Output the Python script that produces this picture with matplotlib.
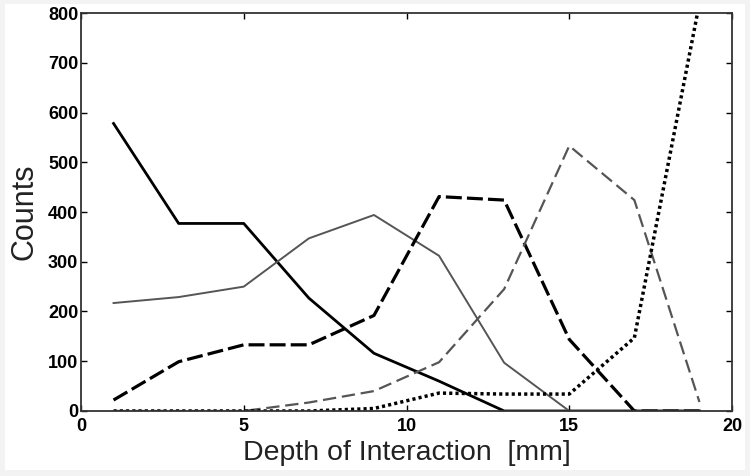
import matplotlib.pyplot as plt
from matplotlib.patches import Rectangle

depth = [1, 3, 5, 7, 9, 11, 13, 15, 17, 19]

black_solid = [578, 377, 377, 227, 116, 60, 0, 0, 0, 0]
gray_solid = [217, 229, 250, 347, 394, 312, 97, 0, 0, 0]
black_dashed = [22, 99, 133, 133, 192, 431, 424, 144, 0, 0]
gray_dashed = [0, 0, 0, 17, 40, 98, 245, 533, 424, 18]
black_dotted = [0, 0, 0, 0, 5, 36, 34, 34, 147, 820]

x_ticks = [0, 5, 10, 15, 20]
y_ticks = [0, 100, 200, 300, 400, 500, 600, 700, 800]

plt.rcParams['font.family'] = ['Liberation Sans', 'DejaVu Sans']

fig = plt.figure(figsize=(7.5, 4.76), dpi=100, facecolor='#f3f3f3')
# white page area inside the light grey scan border
fig.patches.append(Rectangle((0.007, 0.013), 0.986, 0.979, transform=fig.transFigure,
                             facecolor='white', edgecolor='none', zorder=-1))
ax = fig.add_axes([0.108, 0.1366, 0.868, 0.836])

ax.plot(depth, black_solid, color='black', lw=2.0)
ax.plot(depth, gray_solid, color='#555555', lw=1.4)
ax.plot(depth, black_dashed, color='black', lw=2.3, dashes=(5, 1.6))
ax.plot(depth, gray_dashed, color='#555555', lw=1.6, dashes=(6, 2.6))
ax.plot(depth, black_dotted, color='black', lw=2.5, dashes=(0.9, 0.9))

ax.set_xlim(0, 20)
ax.set_ylim(0, 800)
ax.set_xticks(x_ticks)
ax.set_yticks(y_ticks)
ax.tick_params(direction='in', top=True, right=True, length=4, width=1,
               labelsize=13)
ax.tick_params(axis='x', pad=5)
ax.tick_params(axis='y', pad=2)
for lab in ax.get_xticklabels() + ax.get_yticklabels():
    lab.set_fontweight('bold')
for s in ax.spines.values():
    s.set_linewidth(1.3)
    s.set_color('#333333')

ax.set_xlabel('Depth of Interaction  [mm]', fontsize=20.5, color='#222222', labelpad=4)
ax.set_ylabel('Counts', fontsize=22, color='#222222', labelpad=6)

plt.savefig('out.png', dpi=100, facecolor=fig.get_facecolor())
plt.close()
